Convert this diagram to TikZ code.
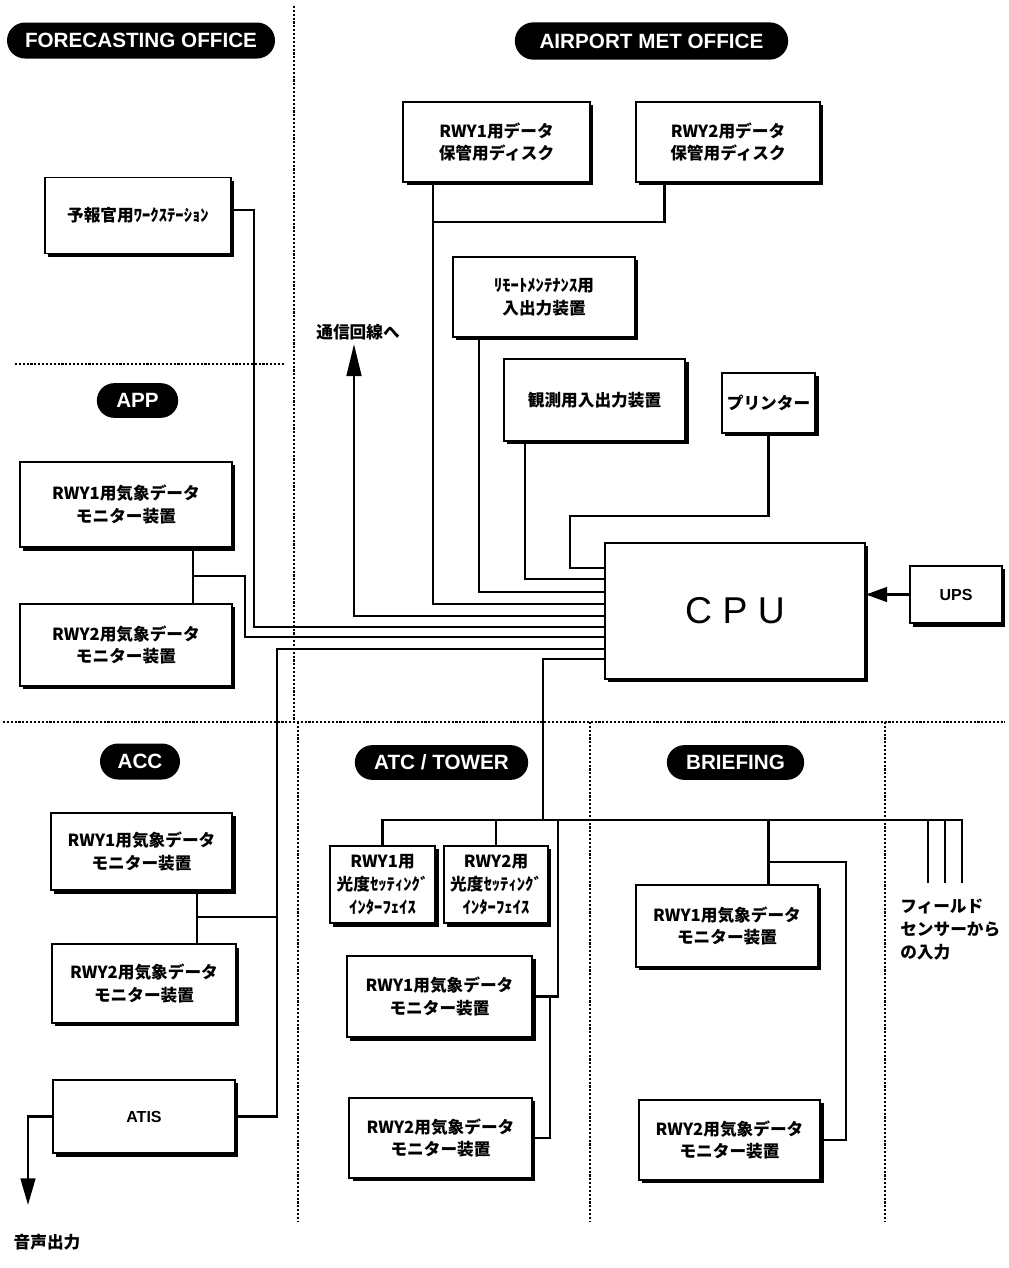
\documentclass[tikz,border=0pt]{standalone}
\usepackage{fontspec}
\setmainfont{Liberation Sans}
\newfontfamily\jp{Noto Sans CJK JP}
\usetikzlibrary{arrows.meta,shapes.misc,shadows}

\begin{document}
\begin{tikzpicture}[x=0.75pt,y=-0.75pt,
  box/.style={draw, line width=1.2pt, fill=white, align=center, inner sep=0pt,
    font=\jp\bfseries\fontsize{12.5}{17}\selectfont,
    drop shadow={shadow xshift=2.6pt,shadow yshift=-2.6pt,fill=black,opacity=1}},
  pill/.style={rounded rectangle, fill=black, text=white, inner sep=0pt,
    font=\bfseries\fontsize{15.5}{17}\selectfont},
  wire/.style={line width=1.9pt},
  zone/.style={line width=0.8pt, dash pattern=on 1.6pt off 1.3pt},
  headto/.style={-{Triangle[length=#1,width=11pt]}},
  jtext/.style={font=\jp\bfseries\fontsize{12.5}{17}\selectfont, inner sep=0pt, align=left}]
\useasboundingbox (0,0) rectangle (1009,1268);

\draw[zone] (294,6) -- (294,722);
\draw[zone] (298,722) -- (298,1222);
\draw[zone] (15,364) -- (285,364);
\draw[zone] (3,722) -- (1005,722);
\draw[zone] (590,722) -- (590,1222);
\draw[zone] (885,722) -- (885,1222);

\node[pill, minimum width=201pt, minimum height=27pt] (fcst) at (141,40.5) {FORECASTING OFFICE};
\node[pill, minimum width=205pt, minimum height=28pt] (amo) at (651.5,41) {AIRPORT MET OFFICE};
\node[pill, minimum width=61pt, minimum height=26pt] (app) at (137.5,400.5) {APP};
\node[pill, minimum width=60pt, minimum height=27pt] (acc) at (140,761.5) {ACC};
\node[pill, minimum width=130pt, minimum height=26pt] (atc) at (441.5,762.5) {ATC / TOWER};
\node[pill, minimum width=103pt, minimum height=26pt] (brf) at (735.5,762.5) {BRIEFING};

\node[box, minimum width=139.5pt, minimum height=57pt] (ws) at (138,215.5) {予報官用ﾜｰｸｽﾃｰｼｮﾝ};
\node[box, minimum width=140pt, minimum height=60pt] (disk1) at (496.5,142) {RWY1用データ\\保管用ディスク};
\node[box, minimum width=138pt, minimum height=60pt] (disk2) at (728,142) {RWY2用データ\\保管用ディスク};
\node[box, minimum width=136.5pt, minimum height=60pt] (remote) at (544,297) {ﾘﾓｰﾄﾒﾝﾃﾅﾝｽ用\\入出力装置};
\node[box, minimum width=136pt, minimum height=61.5pt] (obs) at (594.5,400) {観測用入出力装置};
\node[box, minimum width=70pt, minimum height=45pt] (printer) at (768.5,403) {プリンター};
\node[box, minimum width=195pt, minimum height=102pt, font=\fontsize{28}{30}\selectfont] (cpu) at (735,611) {C P U};
\node[box, minimum width=69pt, minimum height=43pt, font=\bfseries\fontsize{12}{14}\selectfont] (ups) at (956,594.5) {UPS};

\node[box, minimum width=159pt, minimum height=64pt] (app1) at (126,504.5) {RWY1用気象データ\\モニター装置};
\node[box, minimum width=159pt, minimum height=61.5pt] (app2) at (126,645) {RWY2用気象データ\\モニター装置};

\node[box, minimum width=136pt, minimum height=58pt] (acc1) at (141.5,851.5) {RWY1用気象データ\\モニター装置};
\node[box, minimum width=138pt, minimum height=59pt] (acc2) at (144,983.5) {RWY2用気象データ\\モニター装置};
\node[box, minimum width=136.5pt, minimum height=55pt, font=\bfseries\fontsize{12}{14}\selectfont] (atis) at (144,1116.5) {ATIS};

\node[box, minimum width=79pt, minimum height=58pt] (light1) at (382.5,884.5) {RWY1用\\光度ｾｯﾃｨﾝｸﾞ\\ｲﾝﾀｰﾌｪｲｽ};
\node[box, minimum width=78pt, minimum height=58pt] (light2) at (496,884.5) {RWY2用\\光度ｾｯﾃｨﾝｸﾞ\\ｲﾝﾀｰﾌｪｲｽ};
\node[box, minimum width=139pt, minimum height=61pt] (atc1) at (439.5,996.5) {RWY1用気象データ\\モニター装置};
\node[box, minimum width=137pt, minimum height=60pt] (atc2) at (440.5,1138) {RWY2用気象データ\\モニター装置};

\node[box, minimum width=136.5pt, minimum height=61.5pt] (brf1) at (727,926) {RWY1用気象データ\\モニター装置};
\node[box, minimum width=136pt, minimum height=60pt] (brf2) at (729.5,1140) {RWY2用気象データ\\モニター装置};

\node[jtext] (comm) at (358,332) {通信回線へ};
\node[jtext] (voice) at (47,1242) {音声出力};
\node[jtext, anchor=north west] (field) at (900,899) {フィールド\\センサーから\\の入力};

\foreach \n/\y in {prt/568, obs/579, rem/592, disk/604, comm/616, ws/627, app/637, acc/649, atc/659}
  \coordinate (in\n) at (cpu.west |- 0,\y);
\coordinate (prtBend) at (570,516);
\coordinate (diskJoin) at (434,222);
\coordinate (commTip) at (354,344);
\coordinate (wsBend) at (254,627);
\coordinate (appJ) at (193,576);
\coordinate (appBend) at (245,637);
\coordinate (accJ) at (197,917);
\coordinate (accTurn) at (277,649);
\coordinate (voiceTip) at (28,1205);
\coordinate (busJ) at (543,820);
\coordinate (busR) at (962,820);
\coordinate (atcDrop) at (558,820);
\coordinate (brfJ) at (768,862);
\coordinate (brfTurn) at (846,862);
\foreach \x [count=\i] in {928,945,962}
  \coordinate (sens\i) at (\x,883);

\draw[wire] (printer.south) |- (prtBend) |- (inprt);
\draw[wire] ([xshift=16.5pt]obs.south west) |- (inobs);
\draw[wire] ([xshift=20pt]remote.south west) |- (inrem);
\draw[wire] ([xshift=23pt]disk1.south west) |- (indisk);
\draw[wire] ([xshift=22pt]disk2.south west) |- (diskJoin);
\draw[wire, headto=24pt] (incomm) -| (commTip);
\draw[wire] ([yshift=4pt]ws.east) -| (wsBend) -- (inws);
\draw[wire] (app1.south -| appJ) -- (app2.north -| appJ);
\draw[wire] (appJ) -| (appBend) -- (inapp);
\draw[wire] (inacc) -- (accTurn) |- (atis.east);
\draw[wire] (acc1.south -| accJ) -- (acc2.north -| accJ);
\draw[wire] (accJ) -- (accJ -| accTurn);
\draw[wire, headto=20pt] (atis.west) -| (voiceTip);
\draw[wire, headto=16pt] (ups.west) -- (ups.west -| cpu.east);

\draw[wire] (inatc) -| (busJ);
\draw[wire] (light1.north) |- (busR) -- (sens3);
\foreach \i in {1,2}
  \draw[wire] (sens\i) -- (sens\i |- busR);
\draw[wire] (light2.north) -- (light2.north |- busR);
\draw[wire] (atcDrop) |- (atc1.east);
\draw[wire] ([xshift=12.75pt]atc1.east) |- (atc2.east);
\draw[wire] ([xshift=31pt]brf1.north) -- ([xshift=31pt]brf1.north |- busR);
\draw[wire] (brfJ) -- (brfTurn) |- (brf2.east);
\end{tikzpicture}
\end{document}
